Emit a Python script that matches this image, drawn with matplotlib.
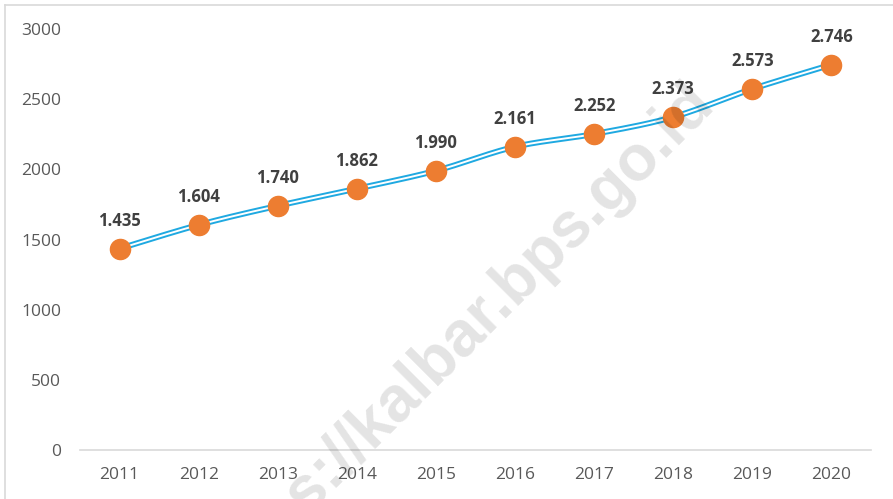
import numpy as np
import matplotlib
matplotlib.use("Agg")
import matplotlib.pyplot as plt
from matplotlib.lines import Line2D

years = ["2011", "2012", "2013", "2014", "2015", "2016", "2017", "2018", "2019", "2020"]
values = [1435, 1604, 1740, 1862, 1990, 2161, 2252, 2373, 2573, 2746]
labels = ["1.435", "1.604", "1.740", "1.862", "1.990", "2.161", "2.252", "2.373", "2.573", "2.746"]
yticks = [0, 500, 1000, 1500, 2000, 2500, 3000]

W, H = 893, 499
fig = plt.figure(figsize=(W / 100, H / 100), dpi=100)
ax = fig.add_axes([80 / W, 49 / H, (871 - 80) / W, (470 - 49) / H])

x = np.arange(len(values))
y = np.array(values, dtype=float)


def smooth_curve(px, py, n=30):
    """Bezier smoothing through the data points (like a spreadsheet 'smoothed line')."""
    P = np.column_stack([px, py])
    P = np.vstack([P[0], P, P[-1]])
    out = []
    for i in range(1, len(P) - 2):
        p0, p1, p2, p3 = P[i - 1], P[i], P[i + 1], P[i + 2]
        b1 = p1 + (p2 - p0) / 6.0
        b2 = p2 - (p3 - p1) / 6.0
        t = np.linspace(0, 1, n, endpoint=(i == len(P) - 3))[:, None]
        seg = ((1 - t) ** 3) * p1 + 3 * ((1 - t) ** 2) * t * b1 + 3 * (1 - t) * t ** 2 * b2 + t ** 3 * p2
        out.append(seg)
    out = np.vstack(out)
    return out[:, 0], out[:, 1]


sx, sy = smooth_curve(x, y)

ax.set_facecolor("none")
ax.plot(sx, sy, color="#1FA9E1", lw=4.2, solid_capstyle="round", zorder=3)
ax.plot(sx, sy, color="white", lw=1.4, solid_capstyle="round", zorder=4)
ax.plot(x, y, linestyle="none", marker="o", markersize=14.5, color="#ED7D31",
        markeredgecolor="#ED7D31", zorder=5)

for xi, yi, lab in zip(x, y, labels):
    ax.annotate(lab, (xi, yi), xytext=(0, 16.5), textcoords="offset points",
                ha="center", va="baseline", fontsize=12, fontweight="bold",
                color="#404040", family="Open Sans", zorder=6)

ax.set_xlim(-0.5, len(values) - 0.5)
ax.set_ylim(0, 3000)
ax.set_yticks(yticks)
ax.set_yticklabels([str(v) for v in yticks])
ax.set_xticks(x)
ax.set_xticklabels(years)
for s in ["top", "right", "left"]:
    ax.spines[s].set_visible(False)
ax.spines["bottom"].set_color("#d9d9d9")
ax.spines["bottom"].set_linewidth(1.2)
ax.tick_params(axis="both", length=0, labelsize=12.5, labelcolor="#595959")
ax.tick_params(axis="y", pad=13.5)
ax.tick_params(axis="x", pad=12)
for t in ax.get_xticklabels() + ax.get_yticklabels():
    t.set_family("Open Sans")

# watermark (drawn over the chart, translucent)
fig.text(468 / W, 1 - 352 / H, "https://kalbar.bps.go.id", rotation=45,
         rotation_mode="anchor", fontsize=46, fontweight="bold", color="black",
         alpha=0.11, ha="center", va="baseline", family="Liberation Sans", zorder=10)

# chart border
fig.add_artist(Line2D([5 / W, 5 / W], [0, 1 - 5 / H], color="#d9d9d9", lw=1.2))
fig.add_artist(Line2D([5 / W, 1], [1 - 5 / H, 1 - 5 / H], color="#d9d9d9", lw=1.2))

fig.savefig("out.png", dpi=100)
